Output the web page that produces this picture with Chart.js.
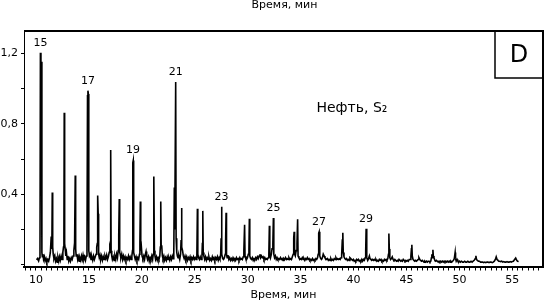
<!DOCTYPE html>
<html>
<head>
<meta charset="utf-8">
<script src="https://cdn.jsdelivr.net/npm/chart.js@4/dist/chart.umd.min.js"></script>
<style>
  html, body { margin: 0; padding: 0; background: #fff; }
  #wrap { width: 544px; height: 302px; }
</style>
</head>
<body>
<div id="wrap"><canvas id="chartBase"></canvas></div>
<script>
// хроматограмма: [время, мин; сигнал]
const chromatogram = [
  [10.05,0.028],[10.15,0.035],[10.25,0.022],[10.33,0.04],[10.38,0.06],[10.42,1.205],[10.47,0.95],[10.51,1.153],[10.56,0.07],
  [10.6,0.045],[10.66,0.06],[10.72,0.03],[10.8,0.045],[10.86,0.02],[10.95,0.035],[11.03,0.015],[11.12,0.03],[11.2,0.02],
  [11.28,0.04],[11.36,0.07],[11.44,0.16],[11.5,0.09],[11.54,0.41],[11.58,0.1],[11.63,0.06],[11.7,0.035],[11.78,0.05],
  [11.85,0.02],[11.93,0.035],[12.0,0.015],[12.08,0.04],[12.15,0.02],[12.22,0.045],[12.3,0.025],[12.38,0.05],[12.46,0.03],
  [12.54,0.07],[12.6,0.1],[12.64,0.15],[12.67,0.864],[12.71,0.12],[12.76,0.09],[12.82,0.05],[12.88,0.07],[12.95,0.03],
  [13.02,0.05],[13.1,0.02],[13.18,0.035],[13.26,0.02],[13.34,0.04],[13.42,0.03],[13.5,0.05],[13.58,0.08],[13.65,0.125],
  [13.71,0.507],[13.75,0.09],[13.8,0.05],[13.87,0.06],[13.94,0.03],[14.0,0.045],[14.08,0.02],[14.15,0.04],[14.23,0.025],
  [14.3,0.05],[14.38,0.03],[14.45,0.055],[14.53,0.03],[14.6,0.045],[14.68,0.025],[14.76,0.05],[14.82,0.08],[14.87,0.96],
  [14.91,0.989],[14.95,0.97],[14.99,0.08],[15.05,0.05],[15.12,0.06],[15.2,0.03],[15.28,0.045],[15.36,0.025],[15.44,0.05],
  [15.52,0.03],[15.6,0.045],[15.68,0.06],[15.74,0.1],[15.79,0.12],[15.83,0.393],[15.88,0.29],[15.92,0.06],[15.98,0.04],
  [16.05,0.055],[16.12,0.03],[16.2,0.05],[16.28,0.025],[16.36,0.045],[16.44,0.03],[16.52,0.05],[16.6,0.035],[16.68,0.055],
  [16.76,0.03],[16.84,0.045],[16.92,0.07],[16.98,0.1],[17.02,0.09],[17.06,0.652],[17.1,0.08],[17.16,0.05],[17.22,0.03],
  [17.3,0.045],[17.38,0.025],[17.46,0.05],[17.54,0.03],[17.62,0.06],[17.7,0.04],[17.77,0.08],[17.82,0.17],[17.87,0.374],
  [17.91,0.07],[17.96,0.06],[18.02,0.04],[18.1,0.06],[18.18,0.03],[18.26,0.05],[18.34,0.03],[18.42,0.045],[18.5,0.025],
  [18.58,0.04],[18.66,0.03],[18.74,0.05],[18.82,0.03],[18.9,0.045],[18.98,0.03],[19.06,0.05],[19.12,0.08],[19.15,0.58],
  [19.19,0.592],[19.23,0.07],[19.3,0.05],[19.38,0.03],[19.46,0.045],[19.54,0.025],[19.62,0.04],[19.7,0.03],[19.78,0.06],
  [19.82,0.13],[19.86,0.359],[19.9,0.08],[19.96,0.1],[20.02,0.05],[20.1,0.035],[20.18,0.05],[20.26,0.03],[20.34,0.06],
  [20.4,0.075],[20.46,0.05],[20.54,0.03],[20.62,0.045],[20.7,0.02],[20.78,0.04],[20.86,0.03],[20.94,0.05],[21.02,0.03],
  [21.08,0.06],[21.12,0.1],[21.15,0.501],[21.19,0.08],[21.24,0.05],[21.3,0.03],[21.38,0.045],[21.46,0.025],[21.54,0.04],
  [21.62,0.03],[21.7,0.05],[21.75,0.1],[21.79,0.359],[21.83,0.1],[21.88,0.11],[21.94,0.05],[22.0,0.035],[22.08,0.05],
  [22.16,0.025],[22.24,0.04],[22.32,0.025],[22.4,0.045],[22.48,0.03],[22.56,0.04],[22.64,0.025],[22.72,0.045],[22.8,0.03],
  [22.88,0.05],[22.96,0.035],[23.02,0.06],[23.07,0.439],[23.11,0.2],[23.2,1.038],[23.24,0.15],[23.3,0.07],[23.36,0.05],
  [23.42,0.04],[23.5,0.05],[23.58,0.03],[23.66,0.06],[23.71,0.14],[23.75,0.323],[23.79,0.1],[23.85,0.08],[23.92,0.05],
  [24.0,0.035],[24.08,0.05],[24.16,0.03],[24.24,0.045],[24.32,0.025],[24.4,0.04],[24.48,0.03],[24.56,0.045],[24.64,0.025],
  [24.72,0.04],[24.8,0.03],[24.88,0.045],[24.96,0.03],[25.04,0.04],[25.12,0.03],[25.2,0.05],[25.25,0.318],[25.29,0.06],
  [25.36,0.04],[25.44,0.03],[25.52,0.045],[25.6,0.03],[25.68,0.05],[25.72,0.12],[25.76,0.306],[25.8,0.07],[25.86,0.05],
  [25.94,0.03],[26.02,0.045],[26.1,0.025],[26.18,0.04],[26.26,0.03],[26.34,0.045],[26.42,0.025],[26.5,0.035],[26.58,0.025],
  [26.66,0.045],[26.74,0.03],[26.82,0.04],[26.9,0.025],[26.98,0.04],[27.06,0.03],[27.14,0.045],[27.22,0.025],[27.3,0.04],
  [27.38,0.03],[27.45,0.06],[27.49,0.15],[27.53,0.329],[27.57,0.06],[27.64,0.035],[27.72,0.03],[27.8,0.04],[27.88,0.06],
  [27.92,0.14],[27.96,0.295],[28.0,0.06],[28.06,0.04],[28.14,0.055],[28.22,0.03],[28.3,0.04],[28.38,0.025],[28.46,0.035],
  [28.54,0.025],[28.62,0.04],[28.7,0.03],[28.78,0.035],[28.86,0.025],[28.94,0.04],[29.02,0.03],[29.1,0.035],[29.18,0.025],
  [29.26,0.04],[29.34,0.03],[29.42,0.035],[29.5,0.03],[29.58,0.045],[29.64,0.08],[29.71,0.227],[29.75,0.05],[29.82,0.035],
  [29.9,0.03],[29.98,0.04],[30.06,0.06],[30.12,0.09],[30.16,0.261],[30.2,0.05],[30.28,0.035],[30.36,0.03],[30.44,0.04],
  [30.52,0.025],[30.6,0.035],[30.68,0.03],[30.76,0.04],[30.84,0.03],[30.92,0.045],[31.0,0.035],[31.08,0.05],[31.16,0.06],
  [31.22,0.04],[31.3,0.05],[31.38,0.04],[31.46,0.045],[31.54,0.03],[31.62,0.04],[31.7,0.03],[31.78,0.035],[31.86,0.03],
  [31.94,0.04],[32.0,0.06],[32.05,0.221],[32.09,0.06],[32.16,0.04],[32.24,0.06],[32.3,0.09],[32.38,0.12],[32.43,0.265],
  [32.47,0.06],[32.54,0.04],[32.62,0.05],[32.7,0.03],[32.78,0.04],[32.86,0.03],[32.94,0.035],[33.02,0.03],[33.1,0.04],
  [33.18,0.03],[33.26,0.035],[33.34,0.025],[33.42,0.035],[33.5,0.03],[33.58,0.04],[33.66,0.03],[33.74,0.035],[33.82,0.03],
  [33.9,0.04],[33.98,0.03],[34.06,0.035],[34.14,0.03],[34.22,0.045],[34.3,0.06],[34.35,0.15],[34.39,0.187],[34.43,0.06],
  [34.5,0.05],[34.58,0.08],[34.66,0.12],[34.72,0.259],[34.76,0.05],[34.84,0.04],[34.92,0.03],[35.0,0.035],[35.08,0.03],
  [35.16,0.04],[35.24,0.03],[35.32,0.035],[35.4,0.025],[35.48,0.035],[35.56,0.03],[35.64,0.04],[35.72,0.03],[35.8,0.035],
  [35.88,0.025],[35.96,0.03],[36.04,0.025],[36.12,0.035],[36.2,0.025],[36.28,0.03],[36.36,0.025],[36.44,0.035],[36.52,0.03],
  [36.6,0.04],[36.66,0.06],[36.71,0.18],[36.75,0.187],[36.79,0.17],[36.83,0.05],[36.9,0.035],[36.98,0.03],[37.06,0.04],
  [37.14,0.06],[37.22,0.05],[37.3,0.04],[37.38,0.035],[37.46,0.03],[37.54,0.035],[37.62,0.025],[37.7,0.03],[37.78,0.025],
  [37.86,0.035],[37.94,0.025],[38.02,0.03],[38.1,0.025],[38.18,0.035],[38.26,0.03],[38.34,0.04],[38.42,0.03],[38.5,0.035],
  [38.58,0.03],[38.66,0.035],[38.74,0.03],[38.82,0.04],[38.88,0.06],[38.94,0.14],[38.99,0.182],[39.03,0.07],[39.1,0.045],
  [39.18,0.035],[39.26,0.03],[39.34,0.035],[39.42,0.025],[39.5,0.03],[39.58,0.025],[39.66,0.04],[39.74,0.035],[39.82,0.03],
  [39.9,0.025],[39.98,0.03],[40.06,0.02],[40.14,0.025],[40.22,0.02],[40.3,0.03],[40.38,0.025],[40.46,0.03],[40.54,0.02],
  [40.62,0.025],[40.7,0.02],[40.78,0.03],[40.86,0.02],[40.94,0.03],[41.02,0.025],[41.1,0.04],[41.15,0.08],[41.19,0.204],
  [41.23,0.1],[41.27,0.04],[41.34,0.025],[41.42,0.035],[41.5,0.05],[41.56,0.035],[41.64,0.03],[41.72,0.025],[41.8,0.03],
  [41.88,0.025],[41.96,0.03],[42.04,0.025],[42.12,0.03],[42.2,0.02],[42.28,0.025],[42.36,0.02],[42.44,0.03],[42.52,0.025],
  [42.6,0.03],[42.68,0.02],[42.76,0.025],[42.84,0.02],[42.92,0.03],[43.0,0.025],[43.08,0.03],[43.16,0.025],[43.24,0.035],
  [43.3,0.06],[43.34,0.178],[43.38,0.09],[43.43,0.04],[43.5,0.03],[43.58,0.035],[43.66,0.045],[43.74,0.03],[43.82,0.025],
  [43.9,0.03],[43.98,0.025],[44.06,0.02],[44.14,0.025],[44.22,0.02],[44.3,0.03],[44.38,0.025],[44.46,0.02],[44.54,0.025],
  [44.62,0.02],[44.7,0.03],[44.78,0.025],[44.86,0.02],[44.94,0.025],[45.02,0.02],[45.1,0.025],[45.18,0.02],[45.26,0.03],
  [45.34,0.03],[45.42,0.05],[45.47,0.09],[45.51,0.113],[45.55,0.05],[45.62,0.03],[45.7,0.025],[45.78,0.02],[45.86,0.025],
  [45.94,0.02],[46.02,0.025],[46.1,0.03],[46.18,0.04],[46.26,0.03],[46.34,0.025],[46.42,0.02],[46.5,0.025],[46.58,0.02],
  [46.66,0.015],[46.74,0.02],[46.82,0.015],[46.9,0.02],[46.98,0.015],[47.06,0.02],[47.14,0.02],[47.22,0.015],[47.3,0.02],
  [47.36,0.04],[47.4,0.06],[47.44,0.04],[47.5,0.085],[47.54,0.05],[47.6,0.04],[47.68,0.025],[47.76,0.02],[47.84,0.025],
  [47.92,0.02],[48.0,0.015],[48.08,0.02],[48.16,0.015],[48.24,0.02],[48.32,0.015],[48.4,0.02],[48.48,0.015],[48.56,0.02],
  [48.64,0.015],[48.72,0.02],[48.8,0.015],[48.88,0.02],[48.96,0.015],[49.04,0.02],[49.12,0.015],[49.2,0.02],[49.28,0.015],
  [49.36,0.02],[49.44,0.025],[49.52,0.035],[49.6,0.07],[49.64,0.035],[49.7,0.02],[49.78,0.03],[49.86,0.02],[49.94,0.015],
  [50.02,0.02],[50.1,0.015],[50.2,0.02],[50.3,0.015],[50.4,0.015],[50.5,0.02],[50.6,0.015],[50.7,0.015],[50.8,0.02],
  [50.9,0.015],[51.0,0.015],[51.1,0.02],[51.2,0.015],[51.3,0.02],[51.4,0.025],[51.5,0.035],[51.56,0.051],[51.62,0.03],
  [51.7,0.025],[51.8,0.02],[51.9,0.02],[52.0,0.015],[52.1,0.015],[52.2,0.015],[52.3,0.012],[52.4,0.015],[52.5,0.012],
  [52.6,0.015],[52.7,0.015],[52.8,0.012],[52.9,0.015],[53.0,0.015],[53.1,0.012],[53.2,0.015],[53.3,0.02],[53.4,0.03],
  [53.48,0.045],[53.56,0.03],[53.64,0.025],[53.72,0.02],[53.8,0.02],[53.9,0.018],[54.0,0.02],[54.1,0.015],[54.2,0.018],
  [54.3,0.015],[54.4,0.015],[54.5,0.018],[54.6,0.015],[54.7,0.015],[54.8,0.018],[54.9,0.015],[55.0,0.018],[55.1,0.02],
  [55.2,0.028],[55.32,0.038],[55.42,0.025],[55.5,0.02],[55.6,0.018]
];

// н-алканы, подписи пиков
const peakCarbon = ["15", "17", "19", "21", "23", "25", "27", "29"];
const peakTime = [10.44, 14.91, 19.17, 23.2, 27.53, 32.43, 36.75, 41.19];

const xTicksLabeled = [10, 15, 20, 25, 30, 35, 40, 45, 50, 55];
const yTicksLabeled = [0.4, 0.8, 1.2];

const axisTitle = "Время, мин";
const sampleName = "Нефть, S₂";
const panelLetter = "D";

const FONT = "'DejaVu Sans', sans-serif";

document.addEventListener("DOMContentLoaded", function () {
  pintarChart();
});

function apexValue(t) {
  let best = 0;
  for (let i = 0; i < chromatogram.length; i++) {
    if (Math.abs(chromatogram[i][0] - t) <= 0.12 && chromatogram[i][1] > best) best = chromatogram[i][1];
  }
  return best;
}

const annotPlugin = {
  id: "annot",
  afterDraw: function (chart) {
    const ctx = chart.ctx;
    const area = chart.chartArea;
    const xs = chart.scales.x;
    const ys = chart.scales.y;

    ctx.save();
    ctx.strokeStyle = "#000";
    ctx.fillStyle = "#000";

    // рамка сверху и справа
    ctx.lineWidth = 2;
    ctx.beginPath();
    ctx.moveTo(area.left, area.top);
    ctx.lineTo(area.right, area.top);
    ctx.lineTo(area.right, area.bottom);
    ctx.stroke();

    // верхняя подпись оси
    ctx.font = "11px " + FONT;
    ctx.textAlign = "center";
    ctx.textBaseline = "middle";
    ctx.fillText(axisTitle, (area.left + area.right) / 2 + 1, 5);

    // номера пиков
    for (let i = 0; i < peakCarbon.length; i++) {
      const px = xs.getPixelForValue(peakTime[i]);
      const py = ys.getPixelForValue(apexValue(peakTime[i]));
      ctx.fillText(peakCarbon[i], px, py - 10);
    }

    // образец
    ctx.font = "14px " + FONT;
    ctx.textAlign = "left";
    ctx.fillText(sampleName, xs.getPixelForValue(36.5), ys.getPixelForValue(0.89));

    // буква панели
    ctx.lineWidth = 1.5;
    ctx.strokeRect(area.right - 48, area.top, 48, 47);
    ctx.font = "24px " + FONT;
    ctx.textAlign = "center";
    ctx.fillText(panelLetter, area.right - 24, area.top + 25);

    ctx.restore();
  }
};

function pintarChart() {
  const canvas = document.getElementById("chartBase");
  const ctx = canvas.getContext("2d");

  const puntos = [];
  for (let i = 0; i < chromatogram.length; i++) {
    puntos.push({ x: chromatogram[i][0], y: chromatogram[i][1] });
  }

  new Chart(ctx, {
    type: "line",
    data: {
      datasets: [{
        data: puntos,
        borderColor: "#000",
        borderWidth: 1.6,
        pointRadius: 0,
        tension: 0,
        fill: false
      }]
    },
    options: {
      responsive: true,
      maintainAspectRatio: false,
      animation: false,
      layout: { padding: { top: 31, right: 1, left: 0, bottom: 0 } },
      plugins: {
        legend: { display: false },
        tooltip: { enabled: false }
      },
      scales: {
        x: {
          type: "linear",
          min: 8.87,
          max: 57.9,
          afterFit: function (s) { s.height = 35.5; },
          border: { display: true, color: "#000", width: 2 },
          grid: { drawOnChartArea: false, drawTicks: true, tickLength: 4, color: "#000", lineWidth: 1 },
          ticks: {
            stepSize: 0.5,
            includeBounds: false,
            autoSkip: false,
            maxRotation: 0,
            padding: 3,
            color: "#000",
            font: { family: FONT, size: 11 },
            callback: function (v) {
              return xTicksLabeled.indexOf(v) >= 0 ? String(v) : "";
            }
          },
          title: {
            display: true,
            text: axisTitle,
            color: "#000",
            font: { family: FONT, size: 11 },
            padding: { top: 0, bottom: 0 }
          }
        },
        y: {
          min: -0.01,
          max: 1.328,
          afterFit: function (s) { s.width = 24; },
          border: { display: true, color: "#000", width: 1, dash: [1, 2] },
          grid: { drawOnChartArea: false, drawTicks: true, tickLength: 3, color: "#000", lineWidth: 1 },
          ticks: {
            stepSize: 0.2,
            includeBounds: false,
            autoSkip: false,
            padding: 3,
            color: "#000",
            font: { family: FONT, size: 11 },
            callback: function (v) {
              for (let i = 0; i < yTicksLabeled.length; i++) {
                if (Math.abs(yTicksLabeled[i] - v) < 1e-6) return String(yTicksLabeled[i]).replace(".", ",");
              }
              return "";
            }
          }
        }
      }
    },
    plugins: [annotPlugin]
  });
}
</script>
</body>
</html>
